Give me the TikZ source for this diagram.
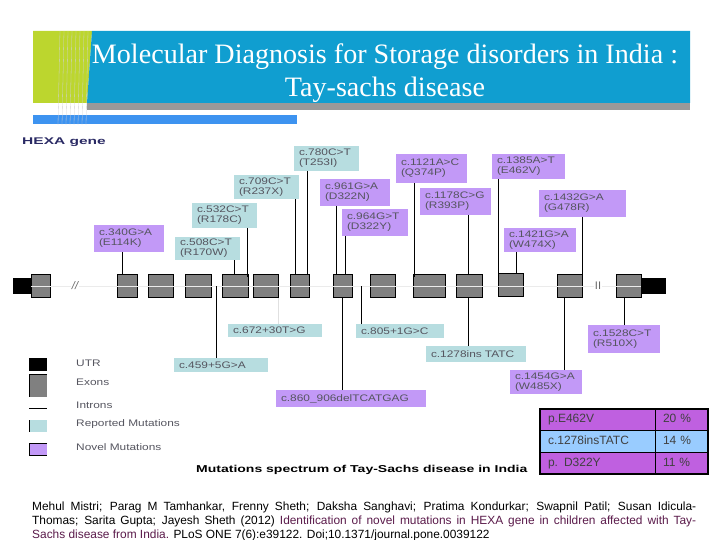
\documentclass[tikz,border=0pt]{standalone}
\usepackage{fontspec}
\usepackage{xcolor}
\setmainfont{Liberation Sans}
\newfontfamily\titlefont{Liberation Serif}
\newfontfamily\widefont[FakeStretch=1.25]{Liberation Sans}
\newfontfamily\spectrumfont[FakeStretch=1.4]{Liberation Sans}
\newfontfamily\headfont[FakeStretch=1.6]{Liberation Sans}
\usetikzlibrary{arrows.meta,positioning,calc}
\definecolor{barblue}{RGB}{16,158,208}
\definecolor{bargreen}{RGB}{188,214,46}
\definecolor{barshade}{RGB}{153,153,153}
\definecolor{barsky}{RGB}{61,147,240}
\definecolor{reported}{RGB}{183,221,224}
\definecolor{novelmut}{RGB}{194,153,247}
\definecolor{rowpurple}{RGB}{191,96,224}
\definecolor{rowblue}{RGB}{153,204,255}
\definecolor{exongray}{RGB}{128,128,128}
\definecolor{labelink}{RGB}{85,85,95}
\definecolor{citeplum}{RGB}{90,26,74}
\definecolor{headink}{RGB}{42,42,100}

\begin{document}
\begin{tikzpicture}[
  x=1pt, y=-1pt, node distance=11pt,
  exon/.style={draw=black, line width=1pt, fill=exongray, minimum height=23pt, inner sep=0pt, outer sep=0pt},
  utr/.style={fill=black, minimum height=16pt, inner sep=0pt, outer sep=0pt},
  rep/.style 2 args={fill=reported, text=labelink, font=\widefont\fontsize{9.5}{10}\selectfont, align=left, text width=#1pt-10pt, minimum height=#2pt, inner xsep=5pt, inner ysep=0pt, outer sep=0pt},
  nov/.style 2 args={rep={#1}{#2}, fill=novelmut},
  stem/.style={line width=1pt, black},
  faint/.style={line width=0.5pt, black!8},
  key/.style={minimum width=18pt, inner sep=0pt, outer sep=0pt},
  keyedge/.style={line width=0.7pt, black},
  keytxt/.style={anchor=west, inner sep=0pt, text=labelink, font=\widefont\fontsize{9.5}{11}\selectfont},
  cell/.style 2 args={draw=black, line width=0.8pt, anchor=north west, inner xsep=8pt, inner ysep=0pt, outer sep=0pt, text=black!75, font=\fontsize{12}{13}\selectfont, text width=#1pt-16pt, minimum height=#2pt, text height=8.5pt, text depth=2pt},
]
\useasboundingbox (0,0) rectangle (720,540);

\fill[bargreen] (33,31) -- (92,31) -- (87,103) -- (33,103) -- cycle;
\fill[barblue] (92,31) -- (690,31) -- (690,103) -- (87,103) -- cycle;
\fill[barshade] (87,103) rectangle (690,110);
\fill[barsky] (33,115) rectangle (297,124);
\foreach \xx in {60,64,...,88}
  \draw[black!18, line width=0.3pt] (\xx,31) -- (\xx-2,125);
\node[text=white, align=center, font=\titlefont\fontsize{28.1}{33}\selectfont, inner sep=0pt] (banner) at (385,73)
  {Molecular Diagnosis for Storage disorders in India :\\Tay-sachs disease};

\node[anchor=west, inner sep=0pt, text=headink, font=\headfont\bfseries\fontsize{9.7}{11}\selectfont] (genename) at (22,142) {HEXA gene};

\node[exon, minimum width=19pt] (e1) at (40.5,286) {};
\node[utr, minimum width=18pt, left=0pt of e1] (u1) {};
\node[exon, minimum width=20pt] (e2) at (127,286) {};
\node[exon, minimum width=25pt, right=of e2] (e3) {};
\node[exon, minimum width=26pt, right=12pt of e3] (e4) {};
\node[exon, minimum width=26pt, right=of e4] (e5) {};
\node[exon, minimum width=25pt, right=5pt of e5] (e6) {};
\node[exon, minimum width=19pt, right=12pt of e6] (e7) {};
\node[exon, minimum width=19pt, right=24pt of e7] (e8) {};
\node[exon, minimum width=25pt, right=18pt of e8] (e9) {};
\node[exon, minimum width=32pt, right=18pt of e9] (e10) {};
\node[exon, minimum width=26pt, right=of e10] (e11) {};
\node[exon, minimum width=25pt, right=16pt of e11, yshift=1pt] (e12) {};
\node[exon, minimum width=25pt, right=34pt of e12, yshift=-1pt] (e13) {};
\node[exon, minimum width=25pt, right=34pt of e13] (e14) {};
\node[utr, minimum width=25pt, right=0pt of e14] (u2) {};
\draw[faint] (u1.east) -- (u2.west);
\node[fill=white, text=black!60, inner sep=1pt, font=\fontsize{11}{12}\selectfont\itshape] (skipa) at (75,286) {//};
\node[fill=white, text=black!60, inner sep=1pt, font=\fontsize{11}{12}\selectfont] (skipb) at (598,286) {II};

\node[nov={70}{27}] (m340) at (129,238.5) {c.340G>A\\(E114K)};
\node[rep={65}{23}] (m508) at (207.5,248.5) {c.508C>T\\(R170W)};
\node[rep={65}{25}] (m532) at (224.5,215.5) {c.532C>T\\(R178C)};
\node[rep={65}{24}] (m709) at (266.5,187) {c.709C>T\\(R237X)};
\node[rep={65}{25}] (m780) at (326.5,158.5) {c.780C>T\\(T253I)};
\node[nov={70}{27}] (m961) at (355,192.5) {c.961G>A\\(D322N)};
\node[nov={66}{27}] (m964) at (375,222.5) {c.964G>T\\(D322Y)};
\node[nov={71}{29}] (m1121) at (431.5,168.5) {c.1121A>C\\(Q374P)};
\node[nov={71}{27}] (m1178) at (455.5,201.5) {c.1178C>G\\(R393P)};
\node[nov={73}{25}] (m1385) at (528.5,166.5) {c.1385A>T\\(E462V)};
\node[nov={72}{24}] (m1421) at (540,240) {c.1421G>A\\(W474X)};
\node[nov={87}{27}] (m1432) at (582.5,203.5) {c.1432G>A\\(G478R)};
\node[rep={94}{13}] (m672) at (275,330.5) {c.672+30T>G};
\node[rep={88}{14}] (m805) at (400,331) {c.805+1G>C};
\node[rep={94}{14}] (m459) at (221,365) {c.459+5G>A};
\node[rep={100}{16}] (m1278) at (476,354) {c.1278ins TATC};
\node[nov={150}{17}] (m860) at (351,398.5) {c.860\_906delTCATGAG};
\node[nov={72}{24}] (m1454) at (546,382) {c.1454G>A\\(W485X)};
\node[nov={72}{28}] (m1528) at (624,339) {c.1528C>T\\(R510X)};

\draw[stem] ([xshift=-6.7pt]m340.south) -- ([xshift=-4.7pt]e2.north);
\draw[stem] ([xshift=26.5pt]m508.south) -- ([xshift=-1pt]e5.north);
\draw[stem] ([xshift=22.5pt]m532.south) -- ([xshift=12pt,yshift=-2pt]e5.north);
\draw[stem] ([xshift=28.5pt]m709.south) -- ([xshift=-4.5pt]e7.north);
\draw[stem] ([xshift=-19.5pt]m780.south) -- ([xshift=7.5pt]e7.north);
\draw[stem] ([xshift=-19pt]m961.south) -- ([xshift=-6.5pt]e8.north);
\draw[stem] ([xshift=-30pt]m964.south) -- ([xshift=2.5pt]e8.north);
\draw[stem] ([xshift=-17.5pt]m1121.south) -- ([xshift=-15pt,yshift=-2pt]e10.north);
\draw[stem] ([xshift=12.5pt]m1178.south) -- ([xshift=-1pt]e11.north);
\draw[stem] ([xshift=-30.5pt]m1385.south) -- ([xshift=-12.5pt]e12.north);
\draw[stem] ([xshift=-24pt]m1421.south) -- ([xshift=5.5pt]e12.north);
\draw[stem] ([xshift=-0.5pt]m1432.south) -- ([xshift=12.5pt]e13.north);
\draw[line width=0.5pt, black!12] ([xshift=3pt]m672.north) -- ([xshift=12.5pt]e6.south);
\coordinate (gapa) at ($(e4.east)!0.5!(e5.west)$);
\coordinate (gapb) at ($(e8.east)!0.5!(e9.west)$);
\draw[stem] ([xshift=-4.5pt]m459.north) -- (gapa);
\draw[stem] ([xshift=-39pt]m805.north) -- (gapb);
\draw[stem] ([xshift=-8.5pt]m860.north) -- (e8.south);
\draw[stem] ([xshift=-8pt]m1278.north) -- ([xshift=-1pt]e11.south);
\draw[stem] ([xshift=18pt]m1454.north) -- ([xshift=-5.5pt]e13.south);
\draw[stem] (m1528.north) -- ([xshift=-4.5pt]e14.south);

\node[key, fill=black, minimum height=13pt] (kutr) at (38,364.5) {};
\node[key, fill=exongray, minimum height=23pt] (kexon) at (38,385.5) {};
\coordinate (kintron) at (29,408);
\node[key, fill=reported, minimum height=12pt] (krep) at (38,426) {};
\node[key, fill=novelmut, minimum height=12pt] (knov) at (38,449) {};
\draw[keyedge] (kexon.north east) -- (kexon.north west) -- (kexon.south west);
\draw[keyedge] (kintron) -- ++(18,0);
\draw[keyedge] (krep.north west) -- (krep.south west);
\draw[keyedge] (knov.north east) -- (knov.north west) -- (knov.south west) -- (knov.south east);
\node[keytxt] (tutr) at (76,363) {UTR};
\node[keytxt] (texon) at (76,382) {Exons};
\node[keytxt] (tintron) at (76,405) {Introns};
\node[keytxt] (trep) at (76,424) {Reported Mutations};
\node[keytxt] (tnov) at (76,447) {Novel Mutations};

\node[anchor=west, inner sep=0pt, font=\spectrumfont\bfseries\fontsize{10}{11}\selectfont] (spectrum) at (196,469.5) {Mutations spectrum of Tay-Sachs disease in India};

\node[cell={115}{21}, fill=rowpurple] (r1a) at (540,409) {p.E462V};
\node[cell={53}{21}, fill=rowpurple] (r1b) at (r1a.north east) {20 \%};
\node[cell={115}{22}, fill=rowblue] (r2a) at (r1a.south west) {c.1278insTATC};
\node[cell={53}{22}, fill=rowblue] (r2b) at (r2a.north east) {14 \%};
\node[cell={115}{22}, fill=rowpurple] (r3a) at (r2a.south west) {p. D322Y};
\node[cell={53}{22}, fill=rowpurple] (r3b) at (r3a.north east) {11 \%};
\draw[line width=1.8pt] (r1a.north west) rectangle (r3b.south east);

\node[anchor=north west, inner sep=0pt, text width=664pt, align=justify, font=\fontsize{11.9}{14}\selectfont] (citation) at (32,501.5)
  {Mehul Mistri; Parag M Tamhankar, Frenny Sheth; Daksha Sanghavi; Pratima Kondurkar; Swapnil Patil; Susan Idicula-\linebreak
  Thomas; Sarita Gupta; Jayesh Sheth (2012) \textcolor{citeplum}{Identification of novel mutations in HEXA gene in children affected with Tay-\linebreak
  Sachs disease from India.} PLoS ONE 7(6):e39122. Doi;10.1371/journal.pone.0039122};
\end{tikzpicture}
\end{document}
